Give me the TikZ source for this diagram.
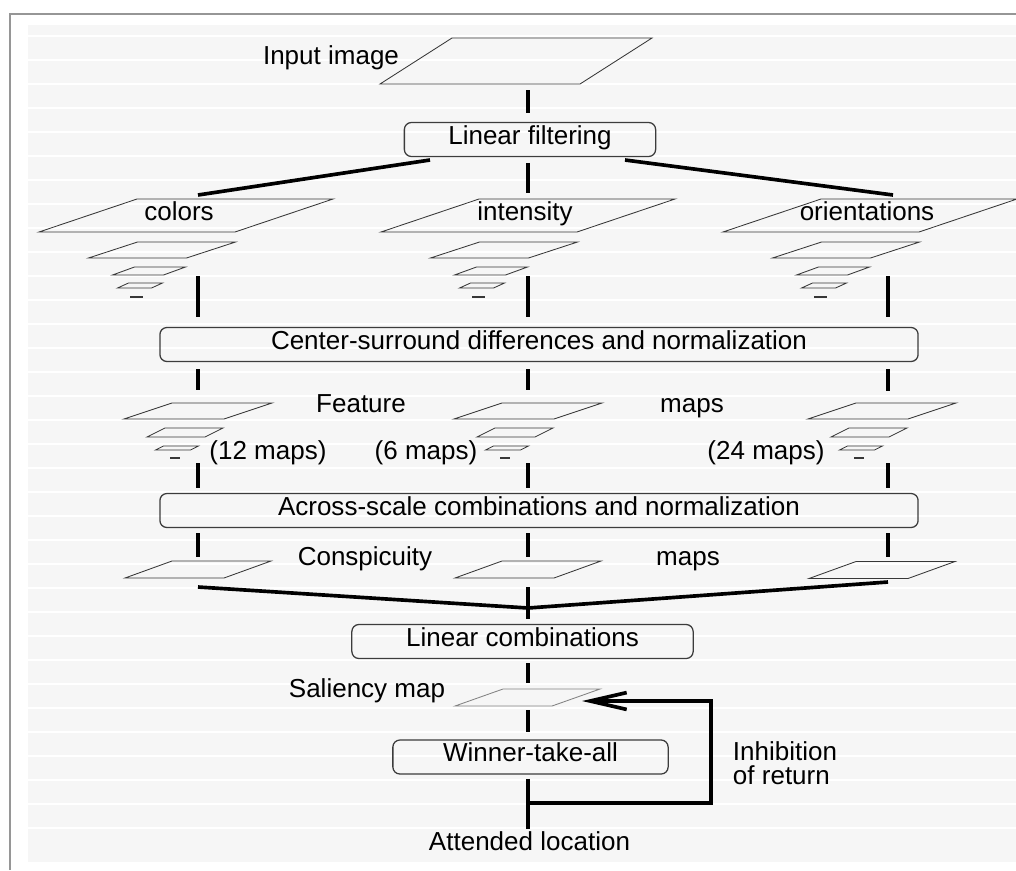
\documentclass[tikz,border=0pt]{standalone}
\usepackage{fontspec}
\setmainfont{Liberation Sans}
\usepackage{tikz}
\usetikzlibrary{arrows.meta}
\definecolor{sheet-gray}{RGB}{246,246,246}
\definecolor{frame-gray}{RGB}{150,150,150}
\definecolor{plane-line}{RGB}{55,55,55}
\definecolor{box-line}{RGB}{60,60,60}
\definecolor{sal-gray}{RGB}{130,130,130}

% map sheet: [style] name, cx, cy, width, height, skew
\newcommand{\mapsheet}[7][plane]{%
  \draw[#1] ({#3-#5/2-#7/2},{#4+#6/2}) -- ++(#5,0) -- ++(#7,-#6)
        -- ++(-#5,0) -- cycle;
  \coordinate (#2) at (#3,#4);}
% scale pyramid below a feature channel: name, cx
\newcommand{\pyramid}[2]{%
  \mapsheet{#1}{#2}{215.5}{196}{33}{98}%
  \mapsheet{#1-b}{#2-24}{250}{98}{16}{49}%
  \mapsheet{#1-c}{#2-37}{271}{51}{8}{22}%
  \mapsheet{#1-d}{#2-46}{285.5}{34}{5}{11}%
  \draw[plane, line width=1pt] (#2-56,297) -- (#2-43,297) coordinate (#1-e);}
% smaller pyramid of feature maps: name, cx
\newcommand{\featpyr}[2]{%
  \mapsheet{#1}{#2}{411}{100}{16}{48}%
  \mapsheet{#1-b}{#2-13}{432.5}{58}{9}{18}%
  \mapsheet{#1-c}{#2-21}{448}{35}{4}{8}%
  \draw[plane, line width=1pt] (#2-28,458) -- (#2-18,458) coordinate (#1-d);}

\begin{document}
\begin{tikzpicture}[x=0.025cm, y=-0.025cm, font=\fontsize{18.5}{21}\selectfont,
      box/.style={draw=box-line, line width=0.9pt, rounded corners=5pt,
                  minimum height=0.85cm, inner sep=0pt,
                  text height=1.5ex, text depth=.25ex},
      lbl/.style={text height=1.5ex, text depth=.25ex},
      plane/.style={draw=plane-line, line width=0.6pt},
      link/.style={line width=2.6pt}]
  \useasboundingbox (0,0) rectangle (1016,870);
  % paper
  \fill[white] (0,0) rectangle (1016,870);
  \fill[sheet-gray] (28,25) rectangle (1016,862);
  \foreach \y in {36,60,...,850}
    \draw[white, line width=1.5pt] (28,\y) -- (1016,\y);
  \draw[frame-gray, line width=1.1pt] (10,870) -- (10,14) -- (1016,14);

  % column axes
  \coordinate (cA) at (198,0);
  \coordinate (cB) at (528,0);
  \coordinate (cC) at (888,0);

  % input and first filtering
  \node[lbl] (inLbl) at (331,60) {Input image};
  \mapsheet{input}{516}{61}{200}{46}{72}
  \node[box, minimum width=6.28cm] (filt) at (530,139.5) {Linear filtering};
  \draw[link, shorten >=6pt] (cB |- 0,90) -- (cB |- filt.north);
  \coordinate (fanL) at (430,160);
  \coordinate (fanR) at (625,160);
  \coordinate (oriTop) at (893,195);
  \draw[link] (fanL) -- (cA |- 0,195);
  \draw[link] (fanR) -- (oriTop);
  \draw[link, shorten <=4pt] (cB |- filt.south) -- (cB |- 0,193);

  % channels
  \pyramid{col}{186}
  \pyramid{int}{528}
  \pyramid{ori}{870}
  \node[lbl] (colLbl) at (179,216) {colors};
  \node[lbl] (intLbl) at (525,216) {intensity};
  \node[lbl] (oriLbl) at (867,216) {orientations};

  \node[box, minimum width=18.95cm] (csd) at (539,344.5)
        {Center-surround differences and normalization};
  \draw[link, shorten >=7pt] (cA |- 0,276) -- (cA |- csd.north);
  \draw[link, shorten >=7pt] (cB |- 0,276) -- (cB |- csd.north);
  \draw[link, shorten >=7pt] (cC |- 0,276) -- (cC |- csd.north);
  \draw[link, shorten <=5pt] (cA |- csd.south) -- (cA |- 0,390);
  \draw[link, shorten <=5pt] (cB |- csd.south) -- (cB |- 0,390);
  \draw[link, shorten <=5pt] (cC |- csd.south) -- (cC |- 0,391);

  % feature maps
  \featpyr{fcol}{198}
  \featpyr{fint}{528}
  \featpyr{fori}{882}
  \node[lbl] (featLbl) at (361,408) {Feature};
  \node[lbl] (featMaps) at (692,408) {maps};
  \node[lbl] (nCol) at (268,455) {(12 maps)};
  \node[lbl] (nInt) at (426,455) {(6 maps)};
  \node[lbl] (nOri) at (766,455) {(24 maps)};

  \node[box, minimum width=18.95cm] (asc) at (539,510.5)
        {Across-scale combinations and normalization};
  \draw[link, shorten >=3.5pt] (cA |- 0,463) -- (cA |- asc.north);
  \draw[link, shorten >=3.5pt] (cB |- 0,463) -- (cB |- asc.north);
  \draw[link, shorten >=3.5pt] (cC |- 0,463) -- (cC |- asc.north);
  \draw[link, shorten <=3.5pt] (cA |- asc.south) -- (cA |- 0,557);
  \draw[link, shorten <=3.5pt] (cB |- asc.south) -- (cB |- 0,557);
  \draw[link, shorten <=3.5pt] (cC |- asc.south) -- (cC |- 0,557);

  % conspicuity maps
  \mapsheet{cspCol}{198}{569.5}{99}{17}{47}
  \mapsheet{cspInt}{528}{569.5}{99}{17}{47}
  \mapsheet{cspOri}{882}{570}{99}{17}{47}
  \node[lbl] (cspLbl) at (365,561) {Conspicuity};
  \node[lbl] (cspMaps) at (688,561) {maps};

  \coordinate (merge) at (528,608);
  \node[box, minimum width=8.53cm] (lin) at (522.5,641.5) {Linear combinations};
  \draw[link] (cA |- 0,587) -- (merge);
  \draw[link] (cC |- 0,582) -- (merge);
  \draw[link, shorten >=3.5pt] (cB |- 0,587) -- (cB |- lin.north);

  % saliency and selection
  \mapsheet[plane, draw=sal-gray]{sal}{527.5}{697.5}{97}{17}{48}
  \node[lbl] (salLbl) at (367,693) {Saliency map};
  \draw[link, shorten <=3pt] (cB |- lin.south) -- (cB |- 0,683);
  \node[box, minimum width=6.88cm] (wta) at (530.5,757) {Winner-take-all};
  \draw[link, shorten >=5.5pt] (cB |- 0,710) -- (cB |- wta.north);
  \coordinate (att) at (528,829);
  \draw[link, shorten <=3pt] (cB |- wta.south) -- (att);
  \node[lbl] (attLbl) at (529.5,846) {Attended location};

  % inhibition of return
  \coordinate (ret) at (711,701);
  \coordinate (salIn) at (582,701);
  \draw[link, -{Straight Barb[length=26pt,width=12pt]}]
        (cB |- 0,803) -| (ret) -- (salIn);
  \node[align=left, anchor=west, font=\fontsize{18.5}{17}\selectfont]
        (inhLbl) at (728,763) {Inhibition\\of return};
\end{tikzpicture}
\end{document}
